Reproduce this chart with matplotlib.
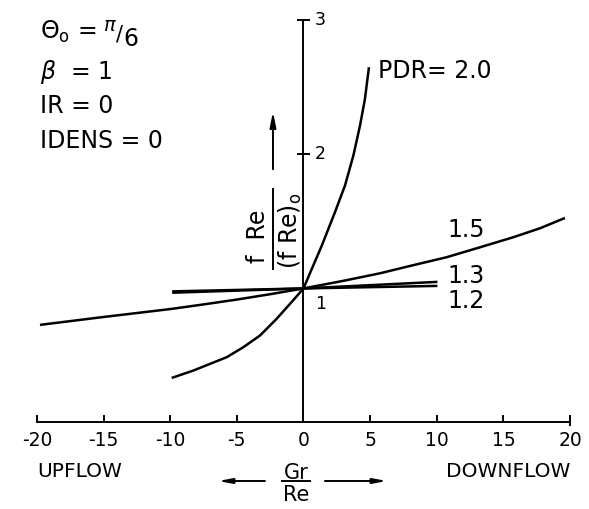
import matplotlib
matplotlib.use("Agg")
import matplotlib.pyplot as plt

plt.rcParams['font.family'] = ['DejaVu Sans']
plt.rcParams['mathtext.fontset'] = 'dejavusans'

# Gr/Re axis ticks and labelled f Re/(f Re)o ticks
x_ticks = [-20, -15, -10, -5, 0, 5, 10, 15, 20]
x_tick_labels = ['-20', '-15', '-10', '-5', '0', '5', '10', '15', '20']
y_ticks = [1, 2, 3]
y_tick_labels = ['1', '2', '3']

# PDR = 2.0
pdr20_x = [-9.89, -8.27, -5.76, -4.52, -3.26, -2.01, -0.77, 0.0, 0.49, 1.37, 2.36, 3.11, 3.74, 4.24, 4.61, 4.91]
pdr20_y = [0.332, 0.387, 0.487, 0.561, 0.649, 0.774, 0.912, 1.0, 1.115, 1.319, 1.569, 1.767, 1.991, 2.215, 2.414, 2.651]

# PDR = 1.5
pdr15_x = [-19.77, -15.0, -10.0, -7.76, -5.0, -2.5, 0.0, 3.0, 5.74, 8.0, 10.74, 13.24, 15.74, 17.74, 19.62]
pdr15_y = [0.728, 0.787, 0.846, 0.877, 0.917, 0.957, 1.0, 1.057, 1.113, 1.168, 1.233, 1.307, 1.382, 1.449, 1.526]

# PDR = 1.3
pdr13_x = [-9.85, 0.0, 10.05]
pdr13_y = [0.968, 1.0, 1.049]

# PDR = 1.2
pdr12_x = [-9.85, 0.0, 10.05]
pdr12_y = [0.978, 1.0, 1.019]

curve_labels = ['PDR= 2.0', '1.5', '1.3', '1.2']
params = [r'$\Theta_{\mathrm{o}}$ =', r'$\beta$  = 1', 'IR = 0', 'IDENS = 0']

fig = plt.figure(figsize=(5.89, 5.10), dpi=100)
ax = fig.add_axes([0, 0, 1, 1])
ax.set_xlim(-22.77, 21.42)
ax.set_ylim(-0.646, 3.160)
ax.axis('off')

ink = 'black'
lw_axis = 1.4
lw_curve = 1.8

# horizontal axis with upward ticks
ax.plot([x_ticks[0], x_ticks[-1]], [0, 0], color=ink, lw=lw_axis, solid_capstyle='butt')
for t in x_ticks:
    ax.plot([t, t], [0, 0.05], color=ink, lw=lw_axis)
ax.plot([x_ticks[-1], x_ticks[-1]], [-0.02, 0.05], color=ink, lw=lw_axis)
for t, lab in zip(x_ticks, x_tick_labels):
    ax.text(t, -0.13, lab, ha='center', va='center', fontsize=13.5)

# vertical axis with cross ticks
ax.plot([0, 0], [0, y_ticks[-1]], color=ink, lw=lw_axis, solid_capstyle='butt')
for t in y_ticks[1:]:
    ax.plot([-0.38, 0.38], [t, t], color=ink, lw=lw_axis)
ax.text(0.86, y_ticks[0] - 0.11, y_tick_labels[0], ha='left', va='center', fontsize=12.5)
for t, lab in zip(y_ticks[1:], y_tick_labels[1:]):
    ax.text(0.86, t + 0.01, lab, ha='left', va='center', fontsize=12.5)

# curves
for xs, ys in [(pdr20_x, pdr20_y), (pdr15_x, pdr15_y), (pdr13_x, pdr13_y), (pdr12_x, pdr12_y)]:
    ax.plot(xs, ys, color=ink, lw=lw_curve, solid_capstyle='butt', solid_joinstyle='round')

ax.text(5.59, 2.63, curve_labels[0], ha='left', va='center', fontsize=17)
ax.text(10.77, 1.444, curve_labels[1], ha='left', va='center', fontsize=17)
ax.text(10.77, 1.10, curve_labels[2], ha='left', va='center', fontsize=17)
ax.text(10.77, 0.914, curve_labels[3], ha='left', va='center', fontsize=17)

# parameter block
for yy, s in zip([2.92, 2.62, 2.37, 2.11], params):
    ax.text(-19.77, yy, s, ha='left', va='center', fontsize=17)
ax.text(-14.52, 2.966, r'$\pi$', ha='center', va='center', fontsize=14)
ax.text(-13.84, 2.90, '/', ha='center', va='center', fontsize=15)
ax.text(-12.95, 2.87, '6', ha='center', va='center', fontsize=17)

# vertical axis title as a rotated fraction with an arrow
ax.text(-3.40, 1.40, 'f  Re', rotation=90, ha='center', va='center', fontsize=17)
ax.plot([-2.29, -2.29], [1.146, 1.742], color=ink, lw=lw_axis)
ax.text(-0.98, 1.44, r'(f Re)$_{\mathrm{o}}$', rotation=90, ha='center', va='center', fontsize=17)
ax.annotate('', xy=(-2.29, 2.32), xytext=(-2.29, 1.89),
            arrowprops=dict(arrowstyle='-|>,head_length=0.9,head_width=0.18', color=ink, lw=lw_axis,
                            shrinkA=0, shrinkB=0))

# horizontal axis title
ax.text(-19.99, -0.362, 'UPFLOW', ha='left', va='center', fontsize=14.5)
ax.text(20.0, -0.362, 'DOWNFLOW', ha='right', va='center', fontsize=14.5)
ax.text(-0.56, -0.37, 'Gr', ha='center', va='center', fontsize=15)
ax.plot([-1.61, 0.49], [-0.437, -0.437], color=ink, lw=lw_axis)
ax.text(-0.56, -0.535, 'Re', ha='center', va='center', fontsize=15)
ax.annotate('', xy=(-6.41, -0.437), xytext=(-2.89, -0.437),
            arrowprops=dict(arrowstyle='-|>,head_length=0.8,head_width=0.15', color=ink, lw=lw_axis,
                            shrinkA=0, shrinkB=0))
ax.annotate('', xy=(6.26, -0.437), xytext=(1.61, -0.437),
            arrowprops=dict(arrowstyle='-|>,head_length=0.8,head_width=0.15', color=ink, lw=lw_axis,
                            shrinkA=0, shrinkB=0))

fig.savefig('out.png', dpi=100, facecolor='white')
